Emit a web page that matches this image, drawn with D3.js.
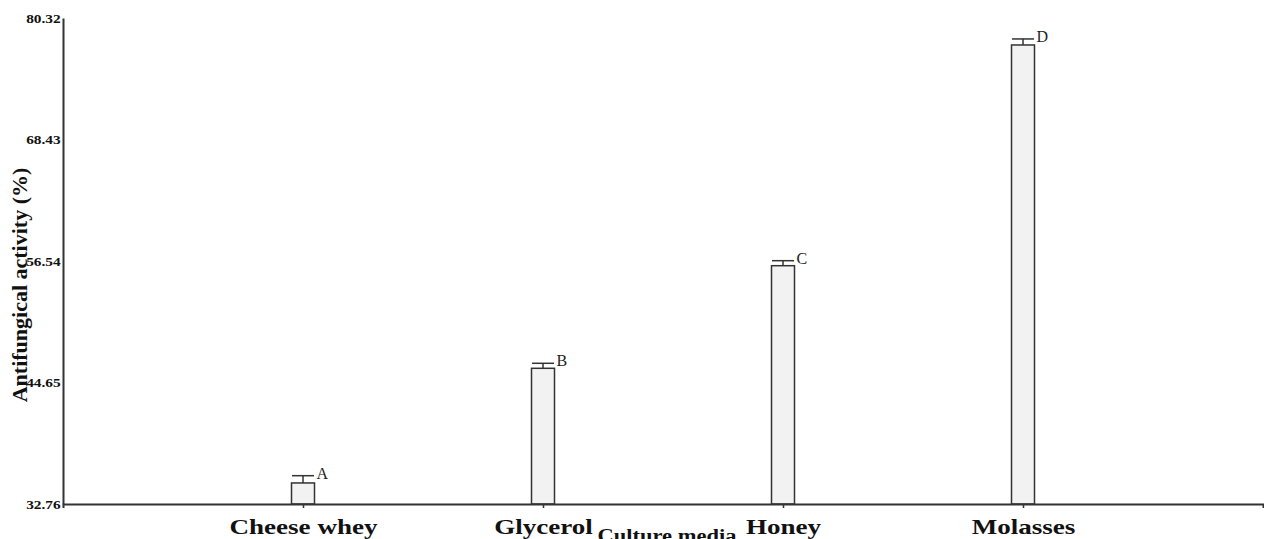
<!DOCTYPE html>
<html lang="en">
<head>
    <meta charset="UTF-8">
    <title>Antifungical activity by culture media</title>
    <style>
        body { margin: 0; background: #fff; }
        svg { display: block; }
        text { font-family: "Liberation Serif", "Times New Roman", serif; }
    </style>
</head>
<body>
    <div id="workspace"></div>
    <script src="https://cdn.jsdelivr.net/npm/d3@7"></script>
    <script>
        // data
        const media = ["Cheese whey", "Glycerol", "Honey", "Molasses"];
        const activity = [34.82, 46.04, 56.08, 77.68];
        const errUp = [0.71, 0.49, 0.49, 0.59];
        const groups = ["A", "B", "C", "D"];
        const yTicks = [32.76, 44.65, 56.54, 68.43, 80.32];

        const width = 1264, height = 539;
        const x0 = 63, x1 = 1263, yTop = 18, yBottom = 504;

        const svg = d3.select("#workspace")
            .append("svg")
            .attr("width", width)
            .attr("height", height);

        const x = d3.scalePoint()
            .domain(media)
            .range([x0, x1])
            .padding(1);

        const y = d3.scaleLinear()
            .domain([32.76, 80.32])
            .range([yBottom, yTop]);

        const barW = 23;

        // bars
        svg.append("g")
            .selectAll("rect")
            .data(media)
            .enter()
            .append("rect")
            .attr("x", d => x(d) - barW / 2)
            .attr("y", (d, i) => y(activity[i]))
            .attr("width", barW)
            .attr("height", (d, i) => y(32.76) - y(activity[i]))
            .attr("fill", "#f2f2f2")
            .attr("stroke", "#333")
            .attr("stroke-width", 1.5);

        // upper error bars
        const eb = svg.append("g").attr("stroke", "#333").attr("stroke-width", 1.5);
        media.forEach((d, i) => {
            const cx = x(d);
            eb.append("line")
                .attr("x1", cx).attr("x2", cx)
                .attr("y1", y(activity[i])).attr("y2", y(activity[i] + errUp[i]));
            eb.append("line")
                .attr("x1", cx - 11).attr("x2", cx + 11)
                .attr("y1", y(activity[i] + errUp[i])).attr("y2", y(activity[i] + errUp[i]));
        });

        // letters
        svg.append("g")
            .selectAll("text")
            .data(media)
            .enter()
            .append("text")
            .attr("x", d => x(d) + barW / 2 + 2)
            .attr("y", (d, i) => y(activity[i] + errUp[i]) + 3)
            .attr("font-size", 16)
            .attr("fill", "#222")
            .text((d, i) => groups[i]);

        // y axis
        const yAxis = svg.append("g")
            .attr("transform", "translate(" + x0 + ",0)")
            .call(d3.axisLeft(y).tickValues(yTicks).tickSize(0).tickPadding(2).tickFormat(d3.format(".2f")));
        yAxis.select(".domain").attr("stroke", "#333").attr("stroke-width", 2);
        yAxis.selectAll("text")
            .attr("font-family", "Liberation Serif, serif")
            .attr("font-weight", "bold")
            .attr("font-size", 13)
            .attr("fill", "#111")
            .attr("transform", "scale(1.18,1)");

        // x axis
        const xAxis = svg.append("g")
            .attr("transform", "translate(0," + yBottom + ")")
            .call(d3.axisBottom(x).tickSize(4).tickSizeOuter(4).tickPadding(7));
        xAxis.select(".domain").attr("stroke", "#333").attr("stroke-width", 2);
        xAxis.selectAll(".tick line").attr("stroke", "#333").attr("stroke-width", 1.5);
        xAxis.selectAll("text")
            .attr("font-family", "Liberation Serif, serif")
            .attr("font-weight", "bold")
            .attr("font-size", 22)
            .attr("fill", "#111")
            .attr("dy", "0.85em")
            .attr("transform", "scale(1.23,1)");

        // axis titles
        svg.append("text")
            .attr("transform", "translate(667,542) scale(1.25,1)")
            .attr("text-anchor", "middle")
            .attr("font-weight", "bold")
            .attr("font-size", 18)
            .attr("fill", "#111")
            .text("Culture media");

        svg.append("text")
            .attr("transform", "translate(27,285) rotate(-90) scale(1.1,1)")
            .attr("text-anchor", "middle")
            .attr("font-weight", "bold")
            .attr("font-size", 20)
            .attr("fill", "#111")
            .text("Antifungical activity (%)");
    </script>
</body>
</html>
